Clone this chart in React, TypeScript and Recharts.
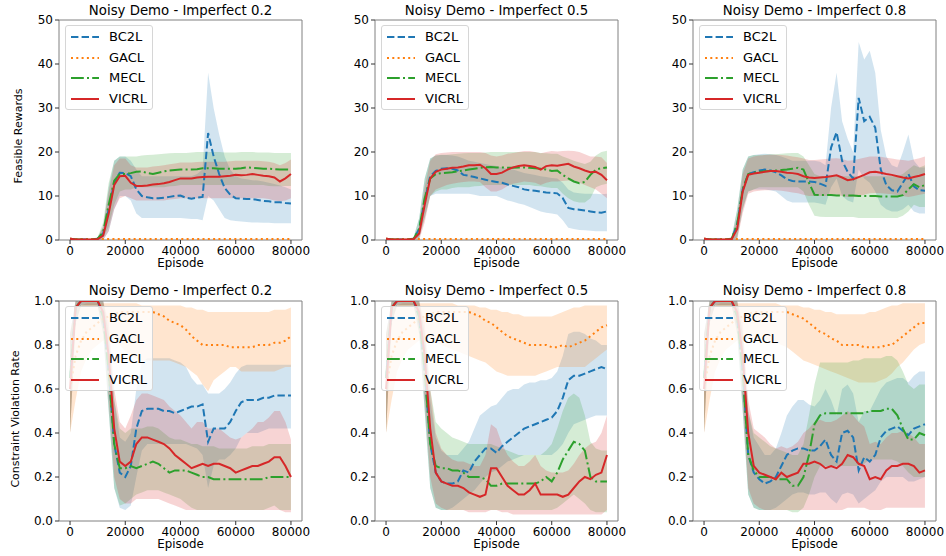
import React from "react";
import { Area, ComposedChart, Line, ReferenceArea, XAxis, YAxis } from "recharts";

// episodes shared by all panels
const EPISODES = [
  0, 2000, 4000, 6000, 8000, 10000, 12000, 14000, 16000, 18000,
  20000, 22000, 24000, 26000, 28000, 30000, 32000, 34000, 36000, 38000,
  40000, 42000, 44000, 46000, 48000, 50000, 52000, 54000, 56000, 58000,
  60000, 62000, 64000, 66000, 68000, 70000, 72000, 74000, 76000, 78000,
  80000,
];

const METHODS = ["BC2L", "GACL", "MECL", "VICRL"];
const X_TICKS = [0, 20000, 40000, 60000, 80000];
const REWARD_TICKS = [0, 10, 20, 30, 40, 50];
const RATE_TICKS = [0, 0.2, 0.4, 0.6, 0.8, 1.0];
const TITLES = ["Noisy Demo - Imperfect 0.2", "Noisy Demo - Imperfect 0.5", "Noisy Demo - Imperfect 0.8"];

// ---- feasible rewards ----
const R_GACL = [0.3, 0.2, 0.2, 0.2, 0.2, 0.2, 0.2, 0.2, 0.2, 0.2, 0.2, 0.2, 0.2, 0.2, 0.2, 0.2, 0.2, 0.2, 0.2, 0.2, 0.2, 0.2, 0.2, 0.2, 0.2, 0.2, 0.2, 0.2, 0.2, 0.2, 0.2, 0.2, 0.2, 0.2, 0.2, 0.2, 0.2, 0.2, 0.2, 0.2, 0.2];
const R_GACL_LO = [0.1, 0.1, 0.1, 0.1, 0.1, 0.1, 0.1, 0.1, 0.1, 0.1, 0.1, 0.1, 0.1, 0.1, 0.1, 0.1, 0.1, 0.1, 0.1, 0.1, 0.1, 0.1, 0.1, 0.1, 0.1, 0.1, 0.1, 0.1, 0.1, 0.1, 0.1, 0.1, 0.1, 0.1, 0.1, 0.1, 0.1, 0.1, 0.1, 0.1, 0.1];
const R_GACL_HI = [0.5, 0.3, 0.3, 0.3, 0.3, 0.3, 0.3, 0.3, 0.3, 0.3, 0.3, 0.3, 0.3, 0.3, 0.3, 0.3, 0.3, 0.3, 0.3, 0.3, 0.3, 0.3, 0.3, 0.3, 0.3, 0.3, 0.3, 0.3, 0.3, 0.3, 0.3, 0.3, 0.3, 0.3, 0.3, 0.3, 0.3, 0.3, 0.3, 0.3, 0.3];

const R02_BC2L = [0.3, 0.1, 0.1, 0.1, 0.1, 0.3, 1.5, 7, 13, 15.3, 15.2, 14.5, 11.5, 10, 9.7, 9.5, 9.5, 9.6, 9.8, 10, 10.1, 9.6, 9.4, 9.6, 9.8, 24.3, 19, 15, 11.8, 10.3, 9.5, 9.4, 9.3, 9.3, 9.1, 8.9, 8.8, 8.6, 8.6, 8.4, 8.3];
const R02_BC2L_LO = [0, 0, 0, 0, 0, 0, 0, 2, 7, 10, 10, 9, 6, 5, 5, 5, 5, 5, 5, 5, 5, 4.9, 4.8, 4.8, 4.5, 10, 9, 7, 5, 4.5, 4.3, 4.2, 4.1, 4, 4, 3.9, 3.9, 3.8, 3.8, 3.8, 3.8];
const R02_BC2L_HI = [0.5, 0.3, 0.3, 0.3, 0.3, 0.6, 3, 12, 18, 19, 19, 18, 16, 14.5, 14.5, 14.5, 14.5, 14.5, 14.5, 14.5, 14.5, 14.5, 14.5, 15, 16, 38, 30, 24, 19, 16, 14.5, 14, 13.8, 13.6, 13.5, 13.3, 13, 12.7, 12.4, 12, 11.5];
const R02_MECL = [0.2, 0.1, 0.1, 0.1, 0.1, 0.3, 1.8, 8, 13.5, 15, 15, 15.2, 15.5, 15.6, 15.2, 15, 15.3, 15.6, 15.8, 15.9, 16, 16, 16, 16.1, 16.3, 16.3, 16.3, 16.2, 16.2, 16.2, 16.2, 16.3, 16.5, 16.4, 16.3, 16.2, 16.2, 16.1, 16, 16, 16];
const R02_MECL_LO = [0, 0, 0, 0, 0, 0, 0.5, 3, 8, 11, 11.5, 11.5, 12, 12, 12, 12, 12, 12, 12.2, 12.3, 12.5, 12.5, 12.5, 12.5, 12.5, 12.5, 12.5, 12.5, 12.5, 12.5, 12.5, 12.5, 12.5, 12.5, 12.5, 12.5, 12.3, 12.2, 12.2, 12.3, 12.3];
const R02_MECL_HI = [0.5, 0.3, 0.3, 0.3, 0.3, 0.6, 4, 13, 18, 19, 19, 19, 19, 19.2, 19.3, 19.4, 19.5, 19.6, 19.7, 19.8, 19.8, 19.8, 19.9, 20, 20, 20, 20, 20, 19.9, 19.9, 19.9, 20, 20, 20, 19.9, 19.9, 19.9, 19.8, 19.8, 19.8, 19.8];
const R02_VICRL = [0.3, 0.1, 0.1, 0.1, 0.1, 0.2, 1, 6, 12.5, 14.5, 14.6, 13, 12.3, 12.3, 12.4, 12.6, 12.7, 12.9, 13.2, 13.6, 14, 14, 14, 14.2, 14.3, 14.4, 14.4, 14.4, 14.5, 14.6, 14.8, 14.7, 14.8, 15, 14.8, 14.6, 14.5, 14.2, 13.3, 14, 15];
const R02_VICRL_LO = [0, 0, 0, 0, 0, 0, 0, 2, 7, 9.5, 10, 9.5, 9, 9, 9, 9, 9, 9, 9.2, 9.3, 9.5, 9.5, 9.5, 9.5, 9.5, 9.5, 9.5, 9.5, 9.5, 9.5, 9.5, 9.5, 9.5, 9.5, 9.5, 9.5, 9.3, 9, 8.8, 9, 9.5];
const R02_VICRL_HI = [0.5, 0.3, 0.3, 0.3, 0.3, 0.5, 3, 11, 17, 18.5, 18.5, 17, 16.5, 16.5, 16.5, 16.7, 16.8, 17, 17.2, 17.4, 17.6, 17.6, 17.6, 17.7, 17.8, 17.8, 17.8, 17.8, 17.8, 17.9, 18, 18, 18, 18, 18, 17.9, 17.8, 17.5, 17, 17.5, 18.3];

const R05_BC2L = [0.3, 0.1, 0.1, 0.1, 0.1, 0.3, 2.5, 9, 14.5, 15.7, 16.2, 16.3, 16.2, 15.8, 14.8, 14.6, 14.3, 14, 13.7, 13.4, 13.2, 13, 12.6, 12.3, 12, 11.5, 11.3, 11.2, 11, 10.8, 10.7, 10.6, 9.5, 7.3, 7, 6.9, 6.7, 6.5, 6.3, 6.2, 6.5];
const R05_BC2L_LO = [0, 0, 0, 0, 0, 0, 0.5, 5, 10, 10.5, 10.5, 10.5, 10.5, 10.5, 10.5, 10.5, 10.3, 10, 10, 10, 10, 9.5, 9, 8.7, 8.3, 8, 7.5, 7, 6.5, 6.2, 6, 5.8, 4.5, 2.8, 2.5, 2.3, 2.2, 2.1, 2, 2, 2];
const R05_BC2L_HI = [0.5, 0.3, 0.3, 0.3, 0.3, 0.6, 5, 14, 18.5, 19.2, 19.3, 19.3, 19.2, 19, 18.5, 18, 17.8, 17.5, 17.3, 17, 16.8, 16.5, 16.2, 16, 15.6, 15.2, 15, 14.8, 14.5, 14.3, 14.1, 14, 13, 11.5, 10.8, 10.6, 10.5, 10.5, 10.5, 10.4, 10.5];
const R05_MECL = [0.2, 0.1, 0.1, 0.1, 0.1, 0.3, 2.5, 9.5, 14, 15, 15.2, 15.3, 15.4, 15.6, 15.8, 16, 16.2, 16.4, 16.5, 16.6, 16.5, 16.5, 16.4, 16.4, 16.5, 16.5, 16.4, 16.3, 16.2, 16, 15.7, 15.8, 14.8, 14, 13.3, 12.9, 13.2, 14.8, 16, 16.3, 16.5];
const R05_MECL_LO = [0, 0, 0, 0, 0, 0, 0.5, 5, 10, 11, 11.5, 11.5, 11.8, 12, 12, 12, 12.2, 12.3, 12.5, 12.5, 12.5, 12.5, 12.5, 12.5, 12.5, 12.5, 12.5, 12.3, 12.2, 12, 11.8, 11.8, 10.5, 9.5, 8.8, 8.5, 8.5, 9.5, 12, 12.5, 12.8];
const R05_MECL_HI = [0.5, 0.3, 0.3, 0.3, 0.3, 0.6, 5, 14, 18.5, 19.2, 19.4, 19.4, 19.5, 19.6, 19.7, 19.8, 19.8, 19.8, 19.9, 20, 20, 20, 20, 20, 20, 20, 20, 20, 19.8, 19.7, 19.6, 19.6, 19, 18.5, 18, 17.6, 17.3, 17.8, 19.2, 20, 20.3];
const R05_VICRL = [0.3, 0.1, 0.1, 0.1, 0.1, 0.2, 1.5, 8, 14, 15.5, 16, 16.2, 16.4, 16.5, 16.7, 17, 17, 17.1, 16.3, 15, 15, 15.3, 16, 16.5, 16.8, 17, 16.8, 16.6, 16, 16.8, 17, 16.9, 17.1, 17.3, 16.7, 16.3, 15.8, 15.4, 15.5, 14.8, 13.6];
const R05_VICRL_LO = [0, 0, 0, 0, 0, 0, 0, 4, 10, 11.5, 12, 12.5, 12.8, 13, 13.2, 13.3, 13.3, 13.2, 12, 11, 11, 11.5, 12.3, 12.8, 13, 13.3, 13.2, 13, 12.5, 13, 13.3, 13.3, 13.4, 13.5, 13.3, 13, 12.5, 12, 11.5, 10.5, 9.5];
const R05_VICRL_HI = [0.5, 0.3, 0.3, 0.3, 0.3, 0.5, 3, 12, 18, 19.5, 19.8, 19.9, 20, 20, 20, 20, 20, 20, 19.8, 19.2, 19, 19.2, 19.6, 19.8, 20, 20.2, 20.2, 20, 19.7, 20, 20.2, 20.1, 20.2, 20.3, 20.2, 20, 19.5, 19, 19, 18.8, 17.5];

const R08_BC2L = [0.3, 0.1, 0.1, 0.1, 0.1, 0.3, 3.5, 11.5, 15, 15.4, 15.8, 16, 15.8, 15.4, 14.7, 13.8, 13.4, 13.3, 13.3, 13.3, 13.2, 12.8, 12.3, 21, 24.5, 18, 15.5, 14, 32.3, 27, 28, 25.5, 16, 12.5, 11.3, 11, 13, 15, 12.2, 11.3, 11.2];
const R08_BC2L_LO = [0, 0, 0, 0, 0, 0, 0.5, 7, 11, 11.5, 11.5, 11.5, 11.3, 11, 10, 9, 8.5, 8.5, 8.5, 8.5, 8.5, 8.3, 8, 12, 14, 10, 9, 8.5, 16, 14, 13, 11, 8, 7, 6.5, 6.5, 7, 8, 6.5, 6, 6];
const R08_BC2L_HI = [0.5, 0.3, 0.3, 0.3, 0.3, 0.6, 7, 16, 19, 19.3, 19.5, 19.6, 19.5, 19.3, 19, 18.5, 18, 18, 18, 18, 18, 17.8, 17, 30, 38, 27, 23, 20, 45, 41, 43, 38, 25, 19, 17, 16.5, 20, 24, 18, 16.5, 16.5];
const R08_MECL = [0.2, 0.1, 0.1, 0.1, 0.1, 0.3, 3.5, 11.5, 15, 15.3, 15.5, 15.6, 15.7, 15.8, 15.9, 16, 16.2, 16.4, 16, 13, 10.3, 10.2, 10.2, 10.2, 10.1, 10.1, 10.1, 10.1, 10, 10, 10, 10, 9.9, 9.9, 9.9, 9.9, 10.2, 11.5, 12.7, 12, 12.5];
const R08_MECL_LO = [0, 0, 0, 0, 0, 0, 0.5, 7, 11, 11.5, 12, 12, 12, 12, 12, 12, 12, 12, 11, 8, 5.5, 5.3, 5.2, 5.2, 5.2, 5.2, 5.2, 5.2, 5, 5, 5, 5, 5, 5, 5, 5, 5.5, 6.5, 8, 7.5, 7.5];
const R08_MECL_HI = [0.5, 0.3, 0.3, 0.3, 0.3, 0.6, 7, 16, 19, 19.3, 19.3, 19.4, 19.5, 19.5, 19.6, 19.7, 19.8, 19.8, 19, 17, 15, 14.5, 14.5, 14.5, 14.5, 14.5, 14.5, 14.5, 14.5, 14.5, 14.5, 14.5, 14.5, 14.5, 14.5, 14.5, 15, 16, 17, 16.5, 17];
const R08_VICRL = [0.3, 0.1, 0.1, 0.1, 0.1, 0.2, 2.5, 11, 14.8, 15.1, 15.3, 15.5, 15.7, 15.7, 15.5, 15.3, 15.2, 15, 14.5, 14.2, 14.1, 14.2, 14.3, 14.5, 14.7, 14.2, 13.6, 13.8, 14.3, 14.8, 15.4, 15.5, 15.3, 15, 14.8, 14.5, 14.2, 14, 14.3, 14.6, 15];
const R08_VICRL_LO = [0, 0, 0, 0, 0, 0, 0, 6, 10.5, 11, 11.2, 11.3, 11.3, 11.3, 11.2, 11, 10.8, 10.6, 10.3, 10, 10, 10, 10, 10.2, 10.3, 10, 9.8, 9.8, 10, 10.3, 10.6, 10.7, 10.6, 10.5, 10.4, 10.2, 10, 9.8, 10, 10.3, 10.5];
const R08_VICRL_HI = [0.5, 0.3, 0.3, 0.3, 0.3, 0.5, 5, 15, 18.5, 19, 19.2, 19.3, 19.4, 19.4, 19.3, 19.2, 19, 18.8, 18.5, 18.2, 18.2, 18.3, 18.4, 18.5, 18.6, 18.4, 18, 18.1, 18.4, 18.7, 19, 19, 18.9, 18.7, 18.5, 18.3, 18.2, 18, 18.3, 18.6, 19];

// ---- constraint violation rate ----
const V02_BC2L = [0.65, 0.97, 1, 1, 1, 1, 0.93, 0.68, 0.35, 0.22, 0.2, 0.25, 0.42, 0.5, 0.51, 0.51, 0.51, 0.5, 0.5, 0.49, 0.5, 0.51, 0.52, 0.52, 0.53, 0.36, 0.42, 0.42, 0.42, 0.45, 0.5, 0.54, 0.55, 0.55, 0.55, 0.56, 0.56, 0.57, 0.57, 0.57, 0.57];
const V02_BC2L_LO = [0.4, 0.9, 0.98, 0.98, 0.98, 0.98, 0.85, 0.5, 0.15, 0.06, 0.05, 0.07, 0.2, 0.32, 0.35, 0.35, 0.35, 0.35, 0.35, 0.35, 0.35, 0.35, 0.34, 0.33, 0.3, 0.15, 0.25, 0.28, 0.28, 0.3, 0.33, 0.38, 0.4, 0.4, 0.4, 0.41, 0.42, 0.42, 0.42, 0.42, 0.42];
const V02_BC2L_HI = [0.85, 1, 1, 1, 1, 1, 1, 0.85, 0.55, 0.38, 0.36, 0.4, 0.6, 0.72, 0.74, 0.74, 0.74, 0.74, 0.74, 0.73, 0.72, 0.7, 0.65, 0.62, 0.62, 0.58, 0.58, 0.58, 0.6, 0.63, 0.67, 0.7, 0.71, 0.71, 0.71, 0.71, 0.71, 0.71, 0.71, 0.71, 0.71];
const V02_GACL = [0.6, 0.75, 0.82, 0.86, 0.88, 0.9, 0.92, 0.93, 0.94, 0.95, 0.95, 0.95, 0.95, 0.95, 0.95, 0.95, 0.94, 0.93, 0.91, 0.9, 0.89, 0.87, 0.84, 0.82, 0.8, 0.8, 0.8, 0.8, 0.8, 0.79, 0.79, 0.79, 0.79, 0.79, 0.8, 0.8, 0.8, 0.81, 0.81, 0.82, 0.84];
const V02_GACL_LO = [0.4, 0.55, 0.68, 0.74, 0.78, 0.8, 0.82, 0.83, 0.83, 0.8, 0.77, 0.75, 0.74, 0.73, 0.73, 0.73, 0.73, 0.73, 0.73, 0.72, 0.71, 0.7, 0.68, 0.66, 0.62, 0.59, 0.64, 0.66, 0.68, 0.7, 0.7, 0.68, 0.68, 0.68, 0.68, 0.68, 0.68, 0.68, 0.69, 0.7, 0.7];
const V02_GACL_HI = [0.85, 0.95, 0.98, 0.99, 0.99, 0.99, 0.99, 0.99, 0.99, 0.99, 0.99, 0.99, 0.99, 0.98, 0.98, 0.98, 0.98, 0.98, 0.98, 0.98, 0.98, 0.97, 0.97, 0.96, 0.96, 0.95, 0.95, 0.95, 0.95, 0.95, 0.95, 0.95, 0.95, 0.95, 0.95, 0.95, 0.95, 0.96, 0.96, 0.96, 0.97];
const V02_MECL = [0.65, 0.97, 1, 1, 1, 1, 0.93, 0.68, 0.35, 0.24, 0.24, 0.25, 0.24, 0.25, 0.26, 0.27, 0.26, 0.24, 0.22, 0.23, 0.23, 0.23, 0.22, 0.21, 0.2, 0.2, 0.19, 0.19, 0.19, 0.19, 0.19, 0.19, 0.19, 0.19, 0.19, 0.19, 0.2, 0.2, 0.2, 0.2, 0.2];
const V02_MECL_LO = [0.4, 0.9, 0.98, 0.98, 0.98, 0.98, 0.85, 0.5, 0.15, 0.07, 0.08, 0.1, 0.12, 0.13, 0.14, 0.14, 0.14, 0.13, 0.12, 0.11, 0.1, 0.08, 0.06, 0.05, 0.05, 0.05, 0.05, 0.05, 0.05, 0.05, 0.05, 0.05, 0.05, 0.05, 0.05, 0.05, 0.06, 0.07, 0.05, 0.05, 0.05];
const V02_MECL_HI = [0.85, 1, 1, 1, 1, 1, 1, 0.85, 0.55, 0.42, 0.4, 0.42, 0.42, 0.42, 0.43, 0.43, 0.42, 0.4, 0.38, 0.37, 0.37, 0.36, 0.35, 0.35, 0.34, 0.34, 0.34, 0.33, 0.33, 0.33, 0.33, 0.33, 0.33, 0.34, 0.34, 0.34, 0.35, 0.35, 0.35, 0.35, 0.35];
const V02_VICRL = [0.6, 0.97, 1, 1, 1, 1, 0.95, 0.75, 0.42, 0.27, 0.25, 0.27, 0.35, 0.38, 0.38, 0.37, 0.36, 0.35, 0.33, 0.3, 0.28, 0.26, 0.24, 0.25, 0.26, 0.25, 0.26, 0.26, 0.25, 0.24, 0.22, 0.23, 0.24, 0.25, 0.25, 0.26, 0.27, 0.29, 0.29, 0.25, 0.2];
const V02_VICRL_LO = [0.4, 0.9, 0.98, 0.98, 0.98, 0.98, 0.87, 0.55, 0.2, 0.1, 0.08, 0.08, 0.1, 0.1, 0.1, 0.1, 0.1, 0.09, 0.08, 0.07, 0.06, 0.05, 0.05, 0.05, 0.05, 0.05, 0.05, 0.05, 0.05, 0.05, 0.05, 0.05, 0.05, 0.05, 0.05, 0.05, 0.05, 0.05, 0.05, 0.04, 0.04];
const V02_VICRL_HI = [0.85, 1, 1, 1, 1, 1, 1, 0.9, 0.6, 0.45, 0.42, 0.48, 0.55, 0.58, 0.58, 0.57, 0.56, 0.55, 0.52, 0.5, 0.48, 0.45, 0.42, 0.45, 0.45, 0.42, 0.42, 0.42, 0.4, 0.38, 0.37, 0.38, 0.4, 0.42, 0.45, 0.45, 0.47, 0.5, 0.5, 0.45, 0.37];

const V05_BC2L = [0.65, 0.97, 1, 1, 1, 1, 0.93, 0.68, 0.35, 0.22, 0.18, 0.17, 0.17, 0.18, 0.23, 0.22, 0.27, 0.3, 0.33, 0.33, 0.31, 0.34, 0.36, 0.38, 0.4, 0.42, 0.43, 0.44, 0.45, 0.46, 0.47, 0.5, 0.56, 0.64, 0.66, 0.66, 0.67, 0.68, 0.69, 0.7, 0.69];
const V05_BC2L_LO = [0.4, 0.9, 0.98, 0.98, 0.98, 0.98, 0.85, 0.5, 0.15, 0.06, 0.05, 0.05, 0.06, 0.08, 0.1, 0.12, 0.14, 0.17, 0.2, 0.22, 0.23, 0.25, 0.27, 0.28, 0.29, 0.3, 0.3, 0.3, 0.3, 0.3, 0.3, 0.32, 0.35, 0.4, 0.44, 0.45, 0.46, 0.47, 0.48, 0.48, 0.48];
const V05_BC2L_HI = [0.85, 1, 1, 1, 1, 1, 1, 0.85, 0.55, 0.38, 0.32, 0.3, 0.3, 0.3, 0.33, 0.36, 0.42, 0.48, 0.5, 0.52, 0.53, 0.56, 0.59, 0.6, 0.6, 0.62, 0.63, 0.63, 0.64, 0.64, 0.65, 0.68, 0.75, 0.85, 0.86, 0.86, 0.85, 0.83, 0.82, 0.8, 0.8];
const V05_GACL = [0.6, 0.75, 0.82, 0.86, 0.88, 0.9, 0.92, 0.93, 0.94, 0.95, 0.95, 0.95, 0.95, 0.95, 0.95, 0.95, 0.94, 0.93, 0.91, 0.9, 0.88, 0.86, 0.84, 0.83, 0.82, 0.81, 0.8, 0.8, 0.8, 0.8, 0.79, 0.79, 0.8, 0.79, 0.8, 0.81, 0.82, 0.84, 0.86, 0.88, 0.89];
const V05_GACL_LO = [0.4, 0.55, 0.68, 0.74, 0.78, 0.8, 0.82, 0.83, 0.83, 0.82, 0.8, 0.79, 0.78, 0.77, 0.76, 0.75, 0.74, 0.73, 0.72, 0.7, 0.68, 0.67, 0.66, 0.66, 0.66, 0.66, 0.66, 0.66, 0.67, 0.68, 0.69, 0.7, 0.7, 0.7, 0.7, 0.7, 0.7, 0.72, 0.74, 0.76, 0.78];
const V05_GACL_HI = [0.85, 0.95, 0.98, 0.99, 0.99, 0.99, 0.99, 0.99, 0.99, 0.99, 0.99, 0.99, 0.99, 0.98, 0.98, 0.98, 0.98, 0.97, 0.97, 0.96, 0.96, 0.95, 0.95, 0.94, 0.94, 0.93, 0.93, 0.93, 0.93, 0.93, 0.93, 0.94, 0.95, 0.96, 0.97, 0.97, 0.98, 0.98, 0.98, 0.98, 0.98];
const V05_MECL = [0.65, 0.97, 1, 1, 1, 1, 0.93, 0.68, 0.35, 0.25, 0.24, 0.24, 0.23, 0.23, 0.22, 0.2, 0.2, 0.2, 0.19, 0.16, 0.16, 0.17, 0.17, 0.17, 0.17, 0.17, 0.17, 0.17, 0.18, 0.2, 0.18, 0.22, 0.28, 0.32, 0.36, 0.35, 0.32, 0.2, 0.18, 0.18, 0.18];
const V05_MECL_LO = [0.4, 0.9, 0.98, 0.98, 0.98, 0.98, 0.85, 0.5, 0.15, 0.06, 0.05, 0.05, 0.05, 0.05, 0.05, 0.05, 0.05, 0.05, 0.05, 0.05, 0.05, 0.05, 0.05, 0.05, 0.05, 0.05, 0.05, 0.05, 0.05, 0.05, 0.05, 0.06, 0.08, 0.1, 0.12, 0.1, 0.08, 0.05, 0.04, 0.04, 0.04];
const V05_MECL_HI = [0.85, 1, 1, 1, 1, 1, 1, 0.85, 0.6, 0.45, 0.42, 0.4, 0.38, 0.37, 0.36, 0.35, 0.35, 0.35, 0.35, 0.35, 0.34, 0.33, 0.32, 0.31, 0.3, 0.3, 0.3, 0.3, 0.3, 0.32, 0.35, 0.42, 0.5, 0.56, 0.58, 0.56, 0.48, 0.36, 0.33, 0.32, 0.32];
const V05_VICRL = [0.6, 0.97, 1, 1, 1, 1, 0.95, 0.75, 0.42, 0.22, 0.18, 0.17, 0.16, 0.16, 0.15, 0.13, 0.12, 0.11, 0.12, 0.24, 0.24, 0.2, 0.16, 0.14, 0.12, 0.12, 0.14, 0.17, 0.12, 0.12, 0.12, 0.12, 0.11, 0.12, 0.15, 0.18, 0.2, 0.19, 0.21, 0.22, 0.3];
const V05_VICRL_LO = [0.4, 0.9, 0.98, 0.98, 0.98, 0.98, 0.87, 0.55, 0.2, 0.08, 0.06, 0.05, 0.05, 0.05, 0.05, 0.04, 0.04, 0.04, 0.04, 0.05, 0.05, 0.04, 0.04, 0.03, 0.03, 0.03, 0.03, 0.03, 0.03, 0.03, 0.03, 0.03, 0.03, 0.03, 0.03, 0.03, 0.03, 0.03, 0.03, 0.03, 0.05];
const V05_VICRL_HI = [0.85, 1, 1, 1, 1, 1, 1, 0.9, 0.6, 0.4, 0.33, 0.3, 0.28, 0.27, 0.27, 0.26, 0.25, 0.25, 0.3, 0.44, 0.42, 0.35, 0.3, 0.27, 0.25, 0.25, 0.27, 0.3, 0.25, 0.23, 0.22, 0.22, 0.22, 0.23, 0.26, 0.3, 0.33, 0.35, 0.36, 0.4, 0.48];

const V08_BC2L = [0.65, 0.97, 1, 1, 1, 1, 0.93, 0.68, 0.3, 0.22, 0.19, 0.17, 0.18, 0.2, 0.25, 0.3, 0.32, 0.33, 0.33, 0.32, 0.32, 0.34, 0.37, 0.3, 0.27, 0.4, 0.41, 0.38, 0.23, 0.29, 0.27, 0.3, 0.38, 0.41, 0.42, 0.43, 0.41, 0.39, 0.42, 0.43, 0.44];
const V08_BC2L_LO = [0.4, 0.9, 0.98, 0.98, 0.98, 0.98, 0.85, 0.5, 0.12, 0.06, 0.05, 0.05, 0.05, 0.06, 0.08, 0.1, 0.12, 0.13, 0.13, 0.12, 0.12, 0.13, 0.13, 0.1, 0.08, 0.12, 0.13, 0.12, 0.08, 0.1, 0.12, 0.14, 0.18, 0.2, 0.2, 0.2, 0.2, 0.18, 0.18, 0.19, 0.2];
const V08_BC2L_HI = [0.85, 1, 1, 1, 1, 1, 1, 0.85, 0.5, 0.38, 0.34, 0.3, 0.3, 0.33, 0.4, 0.48, 0.52, 0.55, 0.55, 0.53, 0.52, 0.55, 0.6, 0.55, 0.48, 0.6, 0.62, 0.58, 0.45, 0.5, 0.5, 0.55, 0.6, 0.63, 0.64, 0.65, 0.65, 0.63, 0.66, 0.68, 0.68];
const V08_GACL = [0.6, 0.75, 0.82, 0.86, 0.88, 0.9, 0.92, 0.93, 0.94, 0.95, 0.95, 0.95, 0.95, 0.95, 0.95, 0.95, 0.94, 0.93, 0.92, 0.9, 0.88, 0.86, 0.85, 0.83, 0.82, 0.8, 0.8, 0.8, 0.8, 0.79, 0.79, 0.79, 0.79, 0.8, 0.8, 0.82, 0.84, 0.86, 0.88, 0.9, 0.9];
const V08_GACL_LO = [0.4, 0.55, 0.68, 0.74, 0.78, 0.8, 0.82, 0.83, 0.83, 0.83, 0.83, 0.82, 0.82, 0.81, 0.8, 0.79, 0.77, 0.75, 0.73, 0.72, 0.71, 0.7, 0.69, 0.68, 0.67, 0.66, 0.65, 0.64, 0.63, 0.63, 0.63, 0.63, 0.64, 0.65, 0.67, 0.7, 0.72, 0.75, 0.78, 0.8, 0.81];
const V08_GACL_HI = [0.85, 0.95, 0.98, 0.99, 0.99, 0.99, 0.99, 0.99, 0.99, 0.99, 0.99, 0.99, 0.99, 0.99, 0.98, 0.98, 0.98, 0.98, 0.97, 0.97, 0.96, 0.96, 0.95, 0.95, 0.94, 0.94, 0.94, 0.94, 0.94, 0.94, 0.95, 0.95, 0.96, 0.97, 0.98, 0.98, 0.99, 0.99, 0.99, 0.99, 0.99];
const V08_MECL = [0.65, 0.97, 1, 1, 1, 1, 0.93, 0.68, 0.3, 0.23, 0.2, 0.2, 0.2, 0.19, 0.19, 0.19, 0.16, 0.16, 0.2, 0.3, 0.44, 0.48, 0.49, 0.49, 0.49, 0.49, 0.49, 0.49, 0.49, 0.49, 0.5, 0.5, 0.5, 0.51, 0.51, 0.48, 0.42, 0.37, 0.37, 0.4, 0.39];
const V08_MECL_LO = [0.4, 0.9, 0.98, 0.98, 0.98, 0.98, 0.85, 0.5, 0.12, 0.06, 0.05, 0.05, 0.05, 0.05, 0.05, 0.05, 0.04, 0.04, 0.06, 0.12, 0.2, 0.25, 0.25, 0.25, 0.25, 0.25, 0.25, 0.25, 0.25, 0.26, 0.28, 0.28, 0.28, 0.28, 0.28, 0.27, 0.25, 0.22, 0.2, 0.2, 0.2];
const V08_MECL_HI = [0.85, 1, 1, 1, 1, 1, 1, 0.85, 0.5, 0.4, 0.38, 0.36, 0.34, 0.33, 0.32, 0.31, 0.3, 0.3, 0.35, 0.48, 0.62, 0.72, 0.72, 0.72, 0.72, 0.72, 0.72, 0.73, 0.73, 0.74, 0.74, 0.74, 0.74, 0.75, 0.75, 0.73, 0.68, 0.62, 0.6, 0.62, 0.62];
const V08_VICRL = [0.6, 0.97, 1, 1, 1, 1, 0.95, 0.75, 0.4, 0.25, 0.22, 0.21, 0.2, 0.19, 0.22, 0.2, 0.21, 0.22, 0.26, 0.26, 0.27, 0.26, 0.24, 0.25, 0.24, 0.26, 0.3, 0.29, 0.26, 0.25, 0.19, 0.2, 0.19, 0.23, 0.25, 0.25, 0.26, 0.26, 0.25, 0.22, 0.23];
const V08_VICRL_LO = [0.4, 0.9, 0.98, 0.98, 0.98, 0.98, 0.87, 0.55, 0.15, 0.08, 0.06, 0.05, 0.05, 0.05, 0.05, 0.05, 0.05, 0.05, 0.05, 0.05, 0.05, 0.05, 0.05, 0.05, 0.05, 0.05, 0.06, 0.06, 0.06, 0.06, 0.05, 0.05, 0.05, 0.06, 0.06, 0.06, 0.06, 0.06, 0.06, 0.06, 0.06];
const V08_VICRL_HI = [0.85, 1, 1, 1, 1, 1, 1, 0.9, 0.55, 0.42, 0.4, 0.38, 0.35, 0.33, 0.34, 0.33, 0.34, 0.36, 0.4, 0.42, 0.45, 0.46, 0.45, 0.45, 0.46, 0.48, 0.5, 0.48, 0.45, 0.43, 0.35, 0.36, 0.35, 0.38, 0.4, 0.4, 0.41, 0.4, 0.38, 0.35, 0.35];

const COLORS: Record<string, string> = {
  BC2L: "#1f77b4",
  GACL: "#ff7f0e",
  MECL: "#2ca02c",
  VICRL: "#d62728",
};
const DASHES: Record<string, string | undefined> = {
  BC2L: "7.4 3.2",
  GACL: "2 3.3",
  MECL: "12.8 3.2 2 3.2",
  VICRL: undefined,
};

const FONT = '"DejaVu Sans", Verdana, sans-serif';
const PLOT_W = 243;
const PLOT_H = 220;
const Y_AXIS_W = 45;
const COL_X = [59, 375, 693];
const ROW_Y = [20, 301];

type Series = Record<string, number[][]>;

function buildRows(s: Series) {
  return EPISODES.map((x, i) => {
    const row: Record<string, any> = { x };
    for (const m of METHODS) {
      const [mean, lo, hi] = s[m];
      row[m] = mean[i];
      row[m + "_band"] = [lo[i], hi[i]];
    }
    return row;
  });
}

const REWARD_PANELS: Series[] = [
  { BC2L: [R02_BC2L, R02_BC2L_LO, R02_BC2L_HI], GACL: [R_GACL, R_GACL_LO, R_GACL_HI], MECL: [R02_MECL, R02_MECL_LO, R02_MECL_HI], VICRL: [R02_VICRL, R02_VICRL_LO, R02_VICRL_HI] },
  { BC2L: [R05_BC2L, R05_BC2L_LO, R05_BC2L_HI], GACL: [R_GACL, R_GACL_LO, R_GACL_HI], MECL: [R05_MECL, R05_MECL_LO, R05_MECL_HI], VICRL: [R05_VICRL, R05_VICRL_LO, R05_VICRL_HI] },
  { BC2L: [R08_BC2L, R08_BC2L_LO, R08_BC2L_HI], GACL: [R_GACL, R_GACL_LO, R_GACL_HI], MECL: [R08_MECL, R08_MECL_LO, R08_MECL_HI], VICRL: [R08_VICRL, R08_VICRL_LO, R08_VICRL_HI] },
];
const RATE_PANELS: Series[] = [
  { BC2L: [V02_BC2L, V02_BC2L_LO, V02_BC2L_HI], GACL: [V02_GACL, V02_GACL_LO, V02_GACL_HI], MECL: [V02_MECL, V02_MECL_LO, V02_MECL_HI], VICRL: [V02_VICRL, V02_VICRL_LO, V02_VICRL_HI] },
  { BC2L: [V05_BC2L, V05_BC2L_LO, V05_BC2L_HI], GACL: [V05_GACL, V05_GACL_LO, V05_GACL_HI], MECL: [V05_MECL, V05_MECL_LO, V05_MECL_HI], VICRL: [V05_VICRL, V05_VICRL_LO, V05_VICRL_HI] },
  { BC2L: [V08_BC2L, V08_BC2L_LO, V08_BC2L_HI], GACL: [V08_GACL, V08_GACL_LO, V08_GACL_HI], MECL: [V08_MECL, V08_MECL_LO, V08_MECL_HI], VICRL: [V08_VICRL, V08_VICRL_LO, V08_VICRL_HI] },
];

function LegendBox({ left, top }: { left: number; top: number }) {
  return (
    <div
      style={{
        position: "absolute",
        left,
        top,
        width: 88,
        height: 85,
        boxSizing: "border-box",
        border: "1px solid #d6d6d6",
        borderRadius: 3,
        background: "rgba(255,255,255,0.8)",
        fontFamily: FONT,
        fontSize: 13,
        color: "#000",
      }}
    >
      {METHODS.map((m, i) => (
        <div key={m} style={{ position: "absolute", left: 0, top: 3 + i * 20.5, height: 16, width: 88 }}>
          <svg width={30} height={16} style={{ position: "absolute", left: 5, top: 0 }}>
            <line x1={0} x2={28} y1={8} y2={8} stroke={COLORS[m]} strokeWidth={2} strokeDasharray={DASHES[m]} />
          </svg>
          <span style={{ position: "absolute", left: 43, top: 0, lineHeight: "16px" }}>{m}</span>
        </div>
      ))}
    </div>
  );
}

function Panel({ series, col, row }: { series: Series; col: number; row: number }) {
  const data = buildRows(series);
  const isReward = row === 0;
  const yDomain = isReward ? [0, 50] : [0, 1];
  const plotX = COL_X[col];
  const plotY = ROW_Y[row];
  return (
    <>
      <div style={{ position: "absolute", left: plotX - Y_AXIS_W, top: plotY - 10 }}>
        <ComposedChart
          width={Y_AXIS_W + PLOT_W + 10}
          height={10 + PLOT_H + 30}
          data={data}
          margin={{ top: 10, right: 10, left: 0, bottom: 0 }}
        >
          <XAxis
            dataKey="x"
            type="number"
            domain={[-4000, 84000]}
            ticks={X_TICKS}
            interval={0}
            allowDataOverflow
            height={30}
            axisLine={false}
            tickSize={4}
            tickMargin={2}
            tickLine={{ stroke: "#333" }}
            tick={{ fontSize: 12, fill: "#000", fontFamily: FONT }}
          />
          <YAxis
            type="number"
            domain={yDomain}
            ticks={isReward ? REWARD_TICKS : RATE_TICKS}
            interval={0}
            allowDataOverflow
            width={Y_AXIS_W}
            axisLine={false}
            tickSize={4}
            tickMargin={2}
            tickLine={{ stroke: "#333" }}
            tick={{ fontSize: 12, fill: "#000", fontFamily: FONT }}
            tickFormatter={(v: number) => (isReward ? String(v) : v.toFixed(1))}
          />
          {METHODS.map((m) => (
            <React.Fragment key={m}>
              <Area
                type="linear"
                dataKey={m + "_band"}
                stroke="none"
                fill={COLORS[m]}
                fillOpacity={0.2}
                dot={false}
                activeDot={false}
                isAnimationActive={false}
              />
              <Line
                type="linear"
                dataKey={m}
                stroke={COLORS[m]}
                strokeWidth={2}
                strokeDasharray={DASHES[m]}
                dot={false}
                activeDot={false}
                isAnimationActive={false}
              />
            </React.Fragment>
          ))}
          <ReferenceArea
            x1={-4000}
            x2={84000}
            y1={yDomain[0]}
            y2={yDomain[1]}
            fill="none"
            stroke="#808080"
            strokeWidth={1}
            ifOverflow="visible"
          />
        </ComposedChart>
      </div>
      <div
        style={{
          position: "absolute",
          left: plotX,
          width: PLOT_W,
          top: row === 0 ? 2 : 282,
          textAlign: "center",
          fontFamily: FONT,
          fontSize: 13.3,
          lineHeight: "17px",
          color: "#000",
          whiteSpace: "nowrap",
        }}
      >
        {TITLES[col]}
      </div>
      <div
        style={{
          position: "absolute",
          left: plotX,
          width: PLOT_W,
          top: row === 0 ? 256 : 537,
          textAlign: "center",
          fontFamily: FONT,
          fontSize: 11.8,
          lineHeight: "15px",
          color: "#000",
        }}
      >
        Episode
      </div>
      <LegendBox left={plotX + 6} top={plotY + 5} />
    </>
  );
}

export default function App() {
  return (
    <div style={{ position: "absolute", left: 0, top: 0, width: 946, height: 556, background: "#fff", overflow: "hidden" }}>
      {REWARD_PANELS.map((s, c) => (
        <Panel key={"r" + c} series={s} col={c} row={0} />
      ))}
      {RATE_PANELS.map((s, c) => (
        <Panel key={"v" + c} series={s} col={c} row={1} />
      ))}
      <div
        style={{
          position: "absolute",
          left: 18,
          top: 136,
          transform: "translate(-50%, -50%) rotate(-90deg)",
          fontFamily: FONT,
          fontSize: 11,
          color: "#000",
          whiteSpace: "nowrap",
        }}
      >
        Feasible Rewards
      </div>
      <div
        style={{
          position: "absolute",
          left: 15,
          top: 419,
          transform: "translate(-50%, -50%) rotate(-90deg)",
          fontFamily: FONT,
          fontSize: 11,
          color: "#000",
          whiteSpace: "nowrap",
        }}
      >
        Constraint Violation Rate
      </div>
    </div>
  );
}
